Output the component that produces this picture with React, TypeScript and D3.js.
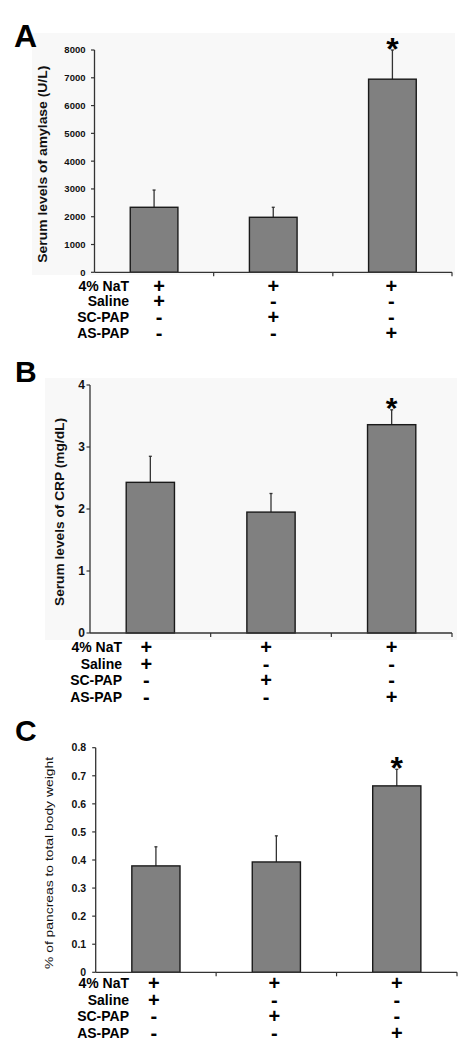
import React from "react";
import * as d3 from "d3";

// ---------- DATA ----------
const groups = ["Saline", "SC-PAP", "AS-PAP"];
const treatmentRows = ["4% NaT", "Saline", "SC-PAP", "AS-PAP"];
const treatmentSigns = [
  ["+", "+", "+"],
  ["+", "-", "-"],
  ["-", "+", "-"],
  ["-", "-", "+"],
];
const significant = [false, false, true];

const amylaseMean = [2340, 1980, 6950];
const amylaseSD = [620, 360, 1050];
const amylaseTicks = [0, 1000, 2000, 3000, 4000, 5000, 6000, 7000, 8000];

const crpMean = [2.43, 1.95, 3.36];
const crpSD = [0.42, 0.3, 0.24];
const crpTicks = [0, 1, 2, 3, 4];

const pancMean = [0.379, 0.393, 0.664];
const pancSD = [0.068, 0.093, 0.059];
const pancTicks = [0, 0.1, 0.2, 0.3, 0.4, 0.5, 0.6, 0.7, 0.8];

// ---------- LAYOUT ----------
const FONT = "'Liberation Sans', Arial, Helvetica, sans-serif";

type PanelCfg = {
  letter: string;
  letterX: number;
  letterY: number;
  letterSize: number;
  x0: number;
  x1: number;
  yTop: number;
  yBottom: number;
  max: number;
  ticks: number[];
  tickFont: number;
  tickFmt: (v: number) => string;
  tickLabelGap: number;
  yLabel: string;
  yLabelX: number;
  yLabelFont: number;
  yLabelWeight: string;
  yLabelLen: number;
  mean: number[];
  sd: number[];
  rowLabelX: number;
  rowStart: number;
  rowStep: number;
  signDx: number[];
  starSize: number;
  bg?: [number, number, number, number];
};

const panels: PanelCfg[] = [
  {
    letter: "A",
    letterX: 14,
    letterY: 47,
    letterSize: 32,
    x0: 94.5,
    x1: 452,
    yTop: 50,
    yBottom: 272.3,
    max: 8000,
    ticks: amylaseTicks,
    tickFont: 9.5,
    tickFmt: (v) => String(v),
    tickLabelGap: 9,
    yLabel: "Serum levels of amylase (U/L)",
    yLabelX: 42,
    yLabelFont: 13,
    yLabelWeight: "bold",
    yLabelLen: 197,
    mean: amylaseMean,
    sd: amylaseSD,
    rowLabelX: 129,
    rowStart: 290.5,
    rowStep: 15.9,
    signDx: [5, 0, -1],
    starSize: 32,
    bg: [32, 33, 455, 275],
  },
  {
    letter: "B",
    letterX: 15,
    letterY: 382,
    letterSize: 30,
    x0: 90,
    x1: 452,
    yTop: 385,
    yBottom: 633,
    max: 4,
    ticks: crpTicks,
    tickFont: 12,
    tickFmt: (v) => String(v),
    tickLabelGap: 5,
    yLabel: "Serum levels of CRP (mg/dL)",
    yLabelX: 60,
    yLabelFont: 12.5,
    yLabelWeight: "bold",
    yLabelLen: 188,
    mean: crpMean,
    sd: crpSD,
    rowLabelX: 122,
    rowStart: 652,
    rowStep: 16.7,
    signDx: [-4, -5, 0],
    starSize: 30,
    bg: [45, 378, 457, 640],
  },
  {
    letter: "C",
    letterX: 15,
    letterY: 741,
    letterSize: 30,
    x0: 95.7,
    x1: 457,
    yTop: 747.7,
    yBottom: 972.3,
    max: 0.8,
    ticks: pancTicks,
    tickFont: 10.5,
    tickFmt: (v) => (v === 0 ? "0" : d3.format(".1f")(v)),
    tickLabelGap: 9.5,
    yLabel: "% of pancreas to total body weight",
    yLabelX: 49,
    yLabelFont: 11.5,
    yLabelWeight: "normal",
    yLabelLen: 212,
    mean: pancMean,
    sd: pancSD,
    rowLabelX: 129,
    rowStart: 988,
    rowStep: 16.5,
    signDx: [-2, -2, 0],
    starSize: 32,
  },
];

function Panel({ cfg }: { cfg: PanelCfg }) {
  const x = d3.scaleBand<string>().domain(groups).range([cfg.x0, cfg.x1]).paddingInner(0).paddingOuter(0);
  const y = d3.scaleLinear().domain([0, cfg.max]).range([cfg.yBottom, cfg.yTop]);
  const bw = x.bandwidth() * 0.4;
  const boundaries = groups.map((g) => (x(g) as number) + x.bandwidth());
  const yLabelCenter = (cfg.yTop + cfg.yBottom) / 2 + 3;
  return (
    <g>
      {cfg.bg && (
        <rect x={cfg.bg[0]} y={cfg.bg[1]} width={cfg.bg[2] - cfg.bg[0]} height={cfg.bg[3] - cfg.bg[1]} fill="#f8f8f8" />
      )}
      <text x={cfg.letterX} y={cfg.letterY} fontSize={cfg.letterSize} fontWeight="bold" fontFamily={FONT} fill="#000">
        {cfg.letter}
      </text>
      {/* bars */}
      {groups.map((g, i) => {
        const cx = (x(g) as number) + x.bandwidth() / 2;
        const top = y(cfg.mean[i]);
        const errTop = y(cfg.mean[i] + cfg.sd[i]);
        return (
          <g key={g}>
            <line x1={cx} x2={cx} y1={top} y2={errTop} stroke="#333" strokeWidth={1.3} />
            <line x1={cx - 1.5} x2={cx + 1.5} y1={errTop} y2={errTop} stroke="#333" strokeWidth={1.3} />
            <rect
              x={cx - bw / 2}
              y={top}
              width={bw}
              height={cfg.yBottom - top}
              fill="#808080"
              stroke="#1a1a1a"
              strokeWidth={1.4}
            />
            {significant[i] && (
              <text
                x={cx}
                y={errTop - 13 + cfg.starSize * 0.72}
                textAnchor="middle"
                fontSize={cfg.starSize}
                fontWeight="bold"
                fontFamily={FONT}
                fill="#000"
              >
                *
              </text>
            )}
          </g>
        );
      })}
      {/* y axis */}
      <line x1={cfg.x0} x2={cfg.x0} y1={cfg.yTop} y2={cfg.yBottom} stroke="#333" strokeWidth={1.3} />
      {cfg.ticks.map((t) => (
        <g key={t}>
          <line x1={cfg.x0 - 3.5} x2={cfg.x0} y1={y(t)} y2={y(t)} stroke="#333" strokeWidth={1.2} />
          <text
            x={cfg.x0 - cfg.tickLabelGap}
            y={y(t)}
            dy="0.36em"
            textAnchor="end"
            fontSize={cfg.tickFont}
            fontWeight="bold"
            fontFamily={FONT}
            fill="#111"
          >
            {cfg.tickFmt(t)}
          </text>
        </g>
      ))}
      {/* x axis */}
      <line x1={cfg.x0} x2={cfg.x1} y1={cfg.yBottom} y2={cfg.yBottom} stroke="#333" strokeWidth={1.3} />
      {boundaries.map((b, i) => (
        <line key={i} x1={b} x2={b} y1={cfg.yBottom} y2={cfg.yBottom + 4} stroke="#333" strokeWidth={1.2} />
      ))}
      {/* y label */}
      <text
        transform={`translate(${cfg.yLabelX},${yLabelCenter}) rotate(-90)`}
        textAnchor="middle"
        dy="0.35em"
        fontSize={cfg.yLabelFont}
        fontWeight={cfg.yLabelWeight}
        fontFamily={FONT}
        fill="#111"
        textLength={cfg.yLabelLen}
        lengthAdjust="spacingAndGlyphs"
      >
        {cfg.yLabel}
      </text>
      {/* treatment table */}
      {treatmentRows.map((r, ri) => {
        const by = cfg.rowStart + ri * cfg.rowStep;
        return (
          <g key={r}>
            <text x={cfg.rowLabelX} y={by} textAnchor="end" fontSize={14} fontWeight="bold" fontFamily={FONT} fill="#000">
              {r}
            </text>
            {groups.map((g, gi) => {
              const cx = (x(g) as number) + x.bandwidth() / 2 + cfg.signDx[gi];
              return (
                <text
                  key={g}
                  x={cx}
                  y={by + 2}
                  textAnchor="middle"
                  fontSize={20}
                  fontWeight="bold"
                  fontFamily={FONT}
                  fill="#000"
                >
                  {treatmentSigns[ri][gi]}
                </text>
              );
            })}
          </g>
        );
      })}
    </g>
  );
}

export default function App() {
  return (
    <svg
      width={471}
      height={1050}
      viewBox="0 0 471 1050"
      style={{ position: "absolute", left: 0, top: 0, background: "#fff" }}
    >
      <rect x={0} y={0} width={471} height={1050} fill="#fff" />
      {panels.map((p) => (
        <Panel key={p.letter} cfg={p} />
      ))}
    </svg>
  );
}
